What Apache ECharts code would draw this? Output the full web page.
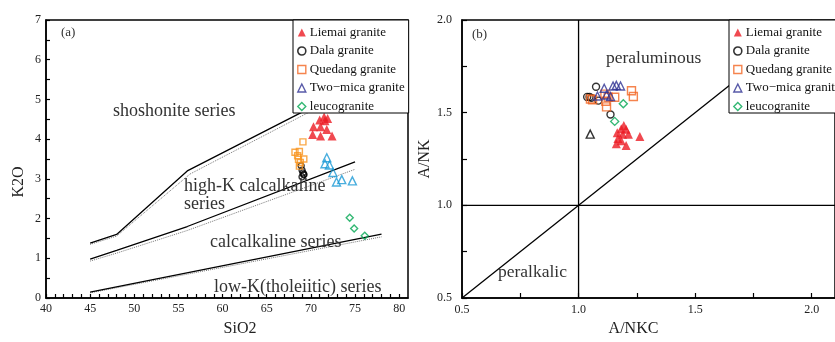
<!DOCTYPE html>
<html>
<head>
<meta charset="utf-8">
<script src="https://cdn.jsdelivr.net/npm/echarts@6/dist/echarts.min.js"></script>
<style>
  html, body { margin: 0; padding: 0; background: #fff; }
  #chart { width: 835px; height: 342px; }
</style>
</head>
<body>
<div id="chart"></div>
<script>
// ---- (a) SiO2 - K2O ----
const leftLiemai = [[71.5, 4.56], [71.9, 4.52], [71.0, 4.48], [71.6, 4.46], [70.3, 4.31], [71.1, 4.31], [71.8, 4.24], [70.2, 4.12], [71.1, 4.08], [72.4, 4.08]]
const leftDala = [[68.9, 3.33], [69.0, 3.22], [69.1, 3.15], [69.2, 3.10], [69.0, 3.05], [69.2, 3.12]]
const leftQuedang = [[69.1, 3.93], [68.2, 3.67], [68.7, 3.69], [68.5, 3.58], [69.2, 3.50], [68.6, 3.49], [68.8, 3.41], [68.7, 3.32]]
const leftTwoMica = [[71.8, 3.53], [71.6, 3.38], [72.1, 3.35], [72.5, 3.16], [72.9, 2.92], [73.5, 2.98], [74.7, 2.95]]
const leftLeuco = [[74.4, 2.02], [74.9, 1.75], [76.1, 1.57]]

// series boundaries (solid + dotted variant)
const shoshoniteLine = [[45, 1.38], [48, 1.6], [56, 3.2], [70.5, 4.85]]
const shoshoniteDotted = [[45, 1.35], [48, 1.56], [56.3, 3.12], [70.5, 4.76]]
const highKLine = [[45, 0.98], [48, 1.2], [56, 1.8], [75, 3.43]]
const highKDotted = [[45, 0.93], [48, 1.13], [56, 1.7], [75, 3.24]]
const lowKLine = [[45, 0.15], [78, 1.61]]
const lowKDotted = [[45, 0.13], [78, 1.54]]

// ---- (b) A/NKC - A/NK ----
const rightLiemai = [[1.194, 1.431], [1.183, 1.413], [1.204, 1.41], [1.166, 1.392], [1.189, 1.384], [1.214, 1.384], [1.263, 1.371], [1.169, 1.361], [1.183, 1.349], [1.162, 1.332], [1.204, 1.323]]
const rightDala = [[1.075, 1.64], [1.037, 1.585], [1.047, 1.585], [1.055, 1.58], [1.085, 1.565], [1.137, 1.49]]
const rightQuedang = [[1.051, 1.574], [1.06, 1.57], [1.113, 1.60], [1.127, 1.583], [1.155, 1.583], [1.117, 1.562], [1.12, 1.531], [1.227, 1.618], [1.235, 1.587]]
const rightTwoMica = [[1.11, 1.632], [1.148, 1.644], [1.162, 1.647], [1.18, 1.644], [1.081, 1.59], [1.137, 1.587], [1.12, 1.595]]
const rightBlackTriangle = [[1.05, 1.384]]
const rightLeuco = [[1.192, 1.548], [1.155, 1.453]]

const vLine = [[1, 0.5], [1, 2]]
const hLine = [[0.5, 1], [2.1, 1]]
const diagLine = [[0.5, 0.5], [2, 2]]

const legendNames = ['Liemai granite', 'Dala granite', 'Quedang granite', 'Two\u2212mica granite', 'leucogranite']

const FONT = 'Liberation Serif, Times New Roman, serif'
const TXT = '#222'

const chart = echarts.init(document.getElementById('chart'))

function axisBase(extra) {
  return Object.assign({
    type: 'value',
    splitLine: {show: false},
    axisLine: {onZero: false, lineStyle: {color: '#000', width: 1.5}},
    axisTick: {inside: true, length: 4, lineStyle: {color: '#000', width: 1.2}},
    axisLabel: {color: TXT, fontFamily: FONT, fontSize: 12},
    nameLocation: 'middle',
    nameTextStyle: {color: TXT, fontFamily: FONT, fontSize: 16}
  }, extra)
}

function lineSeries(data, ax, dotted) {
  return {
    type: 'line', xAxisIndex: ax, yAxisIndex: ax, data: data,
    symbol: 'none', silent: true, z: 1,
    lineStyle: dotted ? {color: '#777', width: 1, type: 'dotted'} : {color: '#000', width: 1.3}
  }
}

function scatter(name, data, ax, symbol, size, fill, stroke) {
  return {
    name: name, type: 'scatter', xAxisIndex: ax, yAxisIndex: ax, data: data,
    symbol: symbol, symbolSize: size, z: 3,
    itemStyle: fill ? {color: fill} : {color: 'rgba(0,0,0,0)', borderColor: stroke, borderWidth: 1.4}
  }
}

const legendData = [
  {name: legendNames[0], icon: 'triangle', itemStyle: {color: '#ec1c24', borderWidth: 0}},
  {name: legendNames[1], icon: 'circle', itemStyle: {color: '#fff', borderColor: '#000', borderWidth: 1.6}},
  {name: legendNames[2], icon: 'rect', itemStyle: {color: '#fff', borderColor: '#f26522', borderWidth: 1.4}},
  {name: legendNames[3], icon: 'triangle', itemStyle: {color: '#fff', borderColor: '#2e3192', borderWidth: 1.4}},
  {name: legendNames[4], icon: 'diamond', itemStyle: {color: '#fff', borderColor: '#00a651', borderWidth: 1.4}}
]

function legendAt(left) {
  return {
    orient: 'vertical', left: left, top: 20,
    backgroundColor: '#fff', borderColor: '#000', borderWidth: 1, borderRadius: 0,
    padding: [6, 4, 0, 4], itemGap: 5.5, itemWidth: 8, itemHeight: 8,
    selectedMode: false,
    textStyle: {color: '#111', fontFamily: FONT, fontSize: 13, padding: [0, 0, 0, -1]},
    data: legendData
  }
}

function label(text, x, y, size) {
  return {type: 'text', x: x, y: y, z: 10, silent: true,
    style: {text: text, fill: '#333', font: (size || 18) + 'px ' + FONT, verticalAlign: 'middle'}}
}

chart.setOption({
  animation: false,
  grid: [
    {left: 46, top: 20, width: 362, height: 289, show: true, borderColor: '#000', borderWidth: 1.5},
    {left: 462, top: 20, width: 385, height: 288, show: true, borderColor: '#000', borderWidth: 1.5}
  ],
  xAxis: [
    axisBase({gridIndex: 0, min: 40, max: 81, interval: 1,
      axisLabel: {color: TXT, fontFamily: FONT, fontSize: 12, margin: 5, showMaxLabel: false,
        formatter: v => (v % 5 === 0 ? String(v) : '')},
      name: 'SiO2', nameGap: 23, nameTextStyle: {color: TXT, fontFamily: FONT, fontSize: 16, padding: [0, 0, 0, 26]}}),
    axisBase({gridIndex: 1, min: 0.5, max: 2.1, interval: 0.25,
      axisTick: {inside: true, length: 5, lineStyle: {color: '#000', width: 1.2}},
      axisLabel: {color: TXT, fontFamily: FONT, fontSize: 12, margin: 6, showMaxLabel: false,
        formatter: v => (Math.abs(v * 2 - Math.round(v * 2)) < 1e-6 ? v.toFixed(1) : '')},
      name: 'A/NKC', nameGap: 23, nameTextStyle: {color: TXT, fontFamily: FONT, fontSize: 16, padding: [0, 30, 0, 0]}})
  ],
  yAxis: [
    axisBase({gridIndex: 0, min: 0, max: 7, interval: 0.5,
      axisLabel: {color: TXT, fontFamily: FONT, fontSize: 12, margin: 5,
        formatter: v => (v % 1 === 0 ? String(v) : '')},
      name: 'K2O', nameGap: 19, nameTextStyle: {color: TXT, fontFamily: FONT, fontSize: 16, padding: [0, 46, 0, 0]}}),
    axisBase({gridIndex: 1, min: 0.5, max: 2.0, interval: 0.25,
      axisTick: {inside: true, length: 5, lineStyle: {color: '#000', width: 1.2}},
      axisLabel: {color: TXT, fontFamily: FONT, fontSize: 12, margin: 10,
        formatter: v => (Math.abs(v * 2 - Math.round(v * 2)) < 1e-6 ? v.toFixed(1) : '')},
      name: 'A/NK', nameGap: 24})
  ],
  legend: [legendAt(293), legendAt(729)],
  graphic: [
    label('(a)', 61, 33, 13),
    label('shoshonite series', 113, 111),
    label('high-K calcalkaline', 184, 186),
    label('series', 184, 204),
    label('calcalkaline series', 210, 242),
    label('low-K(tholeiitic) series', 214, 287),
    label('(b)', 472, 35, 13),
    label('peraluminous', 606, 58, 17.5),
    label('peralkalic', 498, 272, 17.5)
  ],
  series: [
    lineSeries(shoshoniteDotted, 0, true),
    lineSeries(shoshoniteLine, 0, false),
    lineSeries(highKDotted, 0, true),
    lineSeries(highKLine, 0, false),
    lineSeries(lowKDotted, 0, true),
    lineSeries(lowKLine, 0, false),
    scatter(legendNames[0], leftLiemai, 0, 'triangle', 9, '#ec1c24'),
    scatter(legendNames[1], leftDala, 0, 'circle', 6, null, '#000'),
    scatter(legendNames[2], leftQuedang, 0, 'rect', 6, null, '#f7941d'),
    scatter(legendNames[3], leftTwoMica, 0, 'triangle', 8, null, '#1c9ad6'),
    scatter(legendNames[4], leftLeuco, 0, 'diamond', 7, null, '#00a651'),

    lineSeries(vLine, 1, false),
    lineSeries(hLine, 1, false),
    lineSeries(diagLine, 1, false),
    scatter(legendNames[0], rightLiemai, 1, 'triangle', 9, '#ec1c24'),
    scatter(legendNames[1], rightDala, 1, 'circle', 7, null, '#000'),
    scatter(legendNames[2], rightQuedang, 1, 'rect', 8, null, '#f26522'),
    scatter(legendNames[3], rightTwoMica, 1, 'triangle', 8, null, '#2e3192'),
    scatter('Two-mica (black)', rightBlackTriangle, 1, 'triangle', 8, null, '#000'),
    scatter(legendNames[4], rightLeuco, 1, 'diamond', 8, null, '#00a651')
  ]
})
</script>
</body>
</html>
